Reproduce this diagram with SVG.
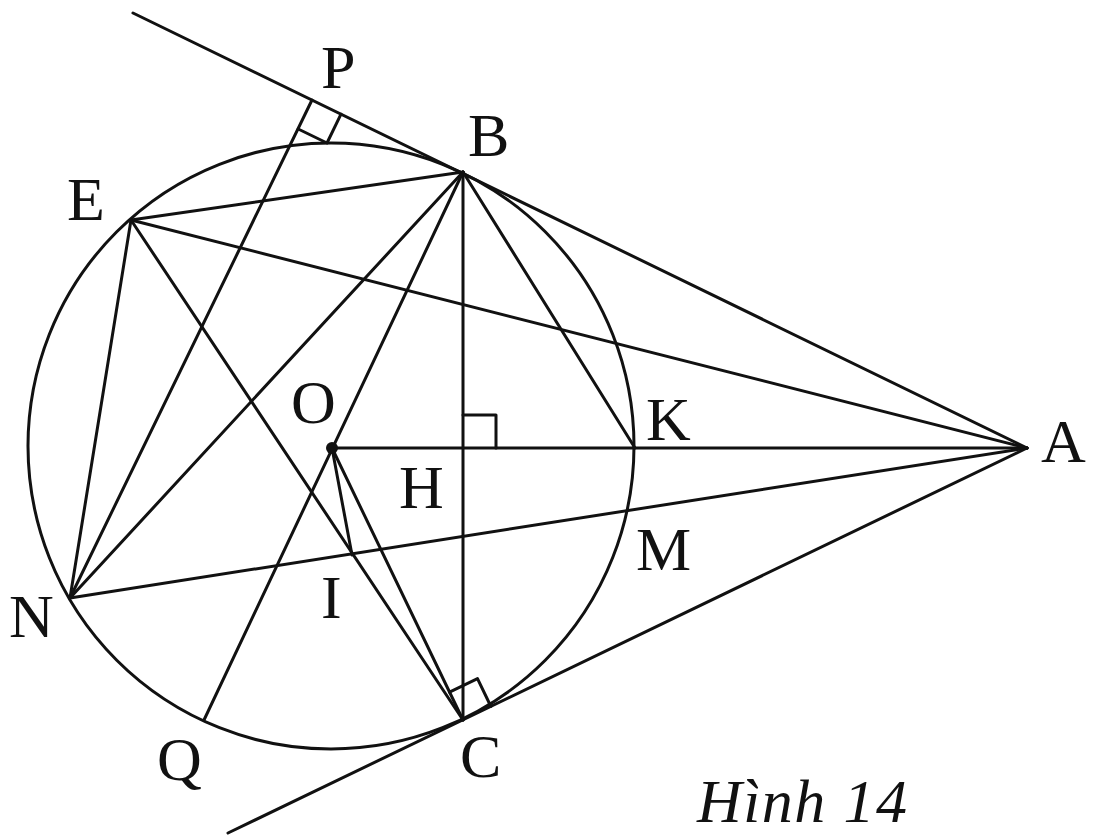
<svg xmlns="http://www.w3.org/2000/svg" width="1110" height="838" viewBox="0 0 1110 838">
<style>
.ln{stroke:#111;stroke-width:3;fill:none;stroke-linecap:round;stroke-linejoin:round}
.lb{font-family:"Liberation Serif","Times New Roman",serif;font-size:62px;fill:#111}
.cap{font-family:"Liberation Serif","Times New Roman",serif;font-size:62px;font-style:italic;fill:#111}
</style>
<rect width="1110" height="838" fill="#fff"/>
<g id="circle"><circle class="ln" cx="331" cy="446" r="303"/></g>
<g id="connectors">
<line class="ln" x1="133" y1="13" x2="1027" y2="448"/>
<line class="ln" x1="1027" y1="448" x2="228" y2="833"/>
<line class="ln" x1="332" y1="448" x2="1027" y2="448"/>
<line class="ln" x1="463" y1="172" x2="463" y2="720"/>
<line class="ln" x1="463" y1="172" x2="131" y2="220"/>
<line class="ln" x1="463" y1="172" x2="70" y2="598"/>
<line class="ln" x1="463" y1="172" x2="204" y2="720"/>
<line class="ln" x1="463" y1="172" x2="635" y2="448"/>
<line class="ln" x1="131" y1="220" x2="1027" y2="448"/>
<line class="ln" x1="131" y1="220" x2="70" y2="598"/>
<line class="ln" x1="131" y1="220" x2="463" y2="720"/>
<line class="ln" x1="70" y1="598" x2="1027" y2="448"/>
<line class="ln" x1="70" y1="598" x2="312" y2="100"/>
<line class="ln" x1="332" y1="448" x2="352" y2="555"/>
<line class="ln" x1="332" y1="448" x2="463" y2="720"/>
<path class="ln" d="M341,114.2 L327,143 L298.2,129"/>
<path class="ln" d="M449.5,692.1 L477.5,678.6 L490.9,706.5"/>
<path class="ln" d="M463,415 H496 V448"/>
</g>
<g id="O"><circle cx="332" cy="448" r="6" fill="#111"/><text class="lb" x="291" y="423">O</text></g>
<g id="P"><text class="lb" x="321" y="88">P</text></g>
<g id="B"><text class="lb" x="468" y="156">B</text></g>
<g id="E"><text class="lb" x="67" y="220">E</text></g>
<g id="K"><text class="lb" x="646" y="440">K</text></g>
<g id="A"><text class="lb" x="1041" y="462">A</text></g>
<g id="H"><text class="lb" x="399" y="508">H</text></g>
<g id="M"><text class="lb" x="636" y="570">M</text></g>
<g id="I"><text class="lb" x="321" y="618">I</text></g>
<g id="N"><text class="lb" x="9" y="637">N</text></g>
<g id="Q"><text class="lb" x="157" y="780">Q</text></g>
<g id="C"><text class="lb" x="460" y="777">C</text></g>
<g id="caption"><text class="cap" x="697" y="822" textLength="210" lengthAdjust="spacing">Hình 14</text></g>
</svg>
